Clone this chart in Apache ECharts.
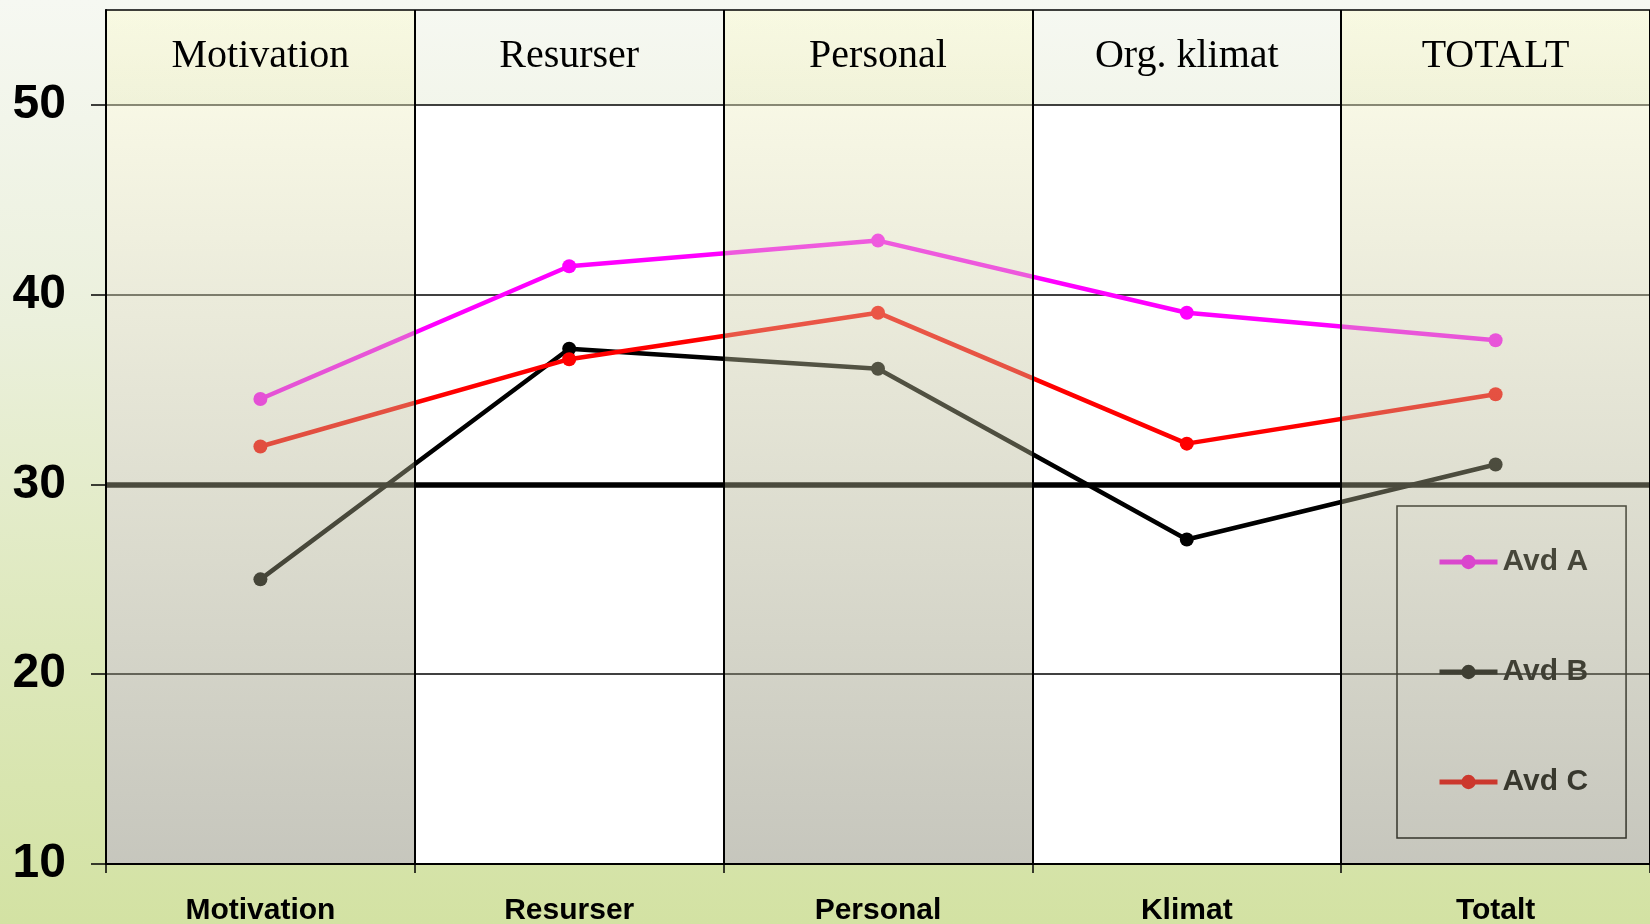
<!DOCTYPE html>
<html>
<head>
<meta charset="utf-8">
<script src="https://cdn.jsdelivr.net/npm/echarts@6/dist/echarts.min.js"></script>
<style>
  html, body { margin: 0; padding: 0; }
  body { background: linear-gradient(to bottom, #f6f8f2 0%, #ebf0dc 35%, #dde8bb 70%, #d3e2a3 100%); }
  #chart { width: 1650px; height: 924px; }
</style>
</head>
<body>
<div id="chart"></div>
<script>
  // data
  const categories = ['Motivation', 'Resurser', 'Personal', 'Klimat', 'Totalt'];
  const headers = ['Motivation', 'Resurser', 'Personal', 'Org. klimat', 'TOTALT'];
  const avdA = [34.5, 41.5, 42.85, 39.05, 37.6];
  const avdB = [25.0, 37.15, 36.1, 27.1, 31.05];
  const avdC = [32.0, 36.6, 39.05, 32.15, 34.75];
  const yTicks = [10, 20, 30, 40, 50];
  const yMin = 10;
  const yMax = 55;
  const headerLine = 50;
  const refLine = 30;
  const shadedCols = [0, 2, 4];

  const chart = echarts.init(document.getElementById('chart'));

  const whiteVals = categories.map(() => headerLine);
  const overlayVals = categories.map((c, i) => shadedCols.indexOf(i) >= 0 ? yMax : '-');

  function lineSeries(name, data, color) {
    return {
      name: name,
      type: 'line',
      data: data,
      z: 2,
      symbol: 'circle',
      symbolSize: 14,
      lineStyle: { color: color, width: 4.5 },
      itemStyle: { color: color },
      emphasis: { disabled: true },
      silent: true
    };
  }

  const seriesA = lineSeries('Avd A', avdA, '#ff00ff');
  seriesA.markLine = {
    silent: true,
    symbol: 'none',
    label: { show: false },
    lineStyle: { color: '#000', width: 5.5, type: 'solid' },
    data: [{ yAxis: refLine }]
  };

  const option = {
    animation: false,
    backgroundColor: 'transparent',
    grid: { left: 106, right: 0, top: 10, bottom: 60, containLabel: false, outerBoundsMode: 'none' },
    legend: {
      data: ['Avd A', 'Avd B', 'Avd C'],
      orient: 'vertical',
      left: 1397,
      top: 506,
      padding: [41, 38, 41, 40],
      itemGap: 80,
      itemWidth: 58,
      itemHeight: 18,
      borderColor: '#000',
      borderWidth: 1.5,
      z: 1,
      selectedMode: false,
      lineStyle: { width: 5 },
      textStyle: { fontSize: 30, fontWeight: 'bold', color: '#000', fontFamily: 'Liberation Sans' }
    },
    xAxis: [
      {
        type: 'category',
        data: categories,
        position: 'bottom',
        z: 10,
        axisLine: { onZero: false, lineStyle: { color: '#000', width: 2 } },
        axisTick: { show: true, length: 9, lineStyle: { color: '#000', width: 1.5 } },
        splitLine: { show: true, lineStyle: { color: '#000', width: 2 } },
        axisLabel: { margin: 32, color: '#000', fontSize: 30, fontWeight: 'bold', fontFamily: 'Liberation Sans' }
      },
      {
        type: 'category',
        data: headers,
        position: 'top',
        z: 10,
        axisLine: { show: true, onZero: false, lineStyle: { color: '#000', width: 1.5 } },
        axisTick: { show: false },
        splitLine: { show: false },
        axisLabel: { inside: true, margin: 26, color: '#000', fontSize: 40, fontFamily: 'Liberation Serif' }
      }
    ],
    yAxis: {
      type: 'value',
      min: yMin,
      max: yMax,
      interval: 10,
      startValue: yMin,
      z: 1,
      axisLine: { show: true, lineStyle: { color: '#000', width: 2 } },
      axisTick: { show: true, length: 15, customValues: yTicks, lineStyle: { color: '#000', width: 1.5 } },
      axisLabel: {
        customValues: yTicks,
        margin: 40,
        color: '#000',
        fontSize: 48,
        fontWeight: 'bold',
        fontFamily: 'Liberation Sans'
      },
      splitLine: { show: true, lineStyle: { color: '#000', width: 1.5 } }
    },
    series: [
      {
        type: 'bar',
        data: whiteVals,
        barWidth: '100%',
        barGap: '-100%',
        z: 0,
        silent: true,
        itemStyle: { color: '#fff' },
        emphasis: { disabled: true }
      },
      seriesA,
      lineSeries('Avd B', avdB, '#000000'),
      lineSeries('Avd C', avdC, '#ff0000'),
      {
        type: 'bar',
        data: overlayVals,
        barWidth: '100%',
        barGap: '-100%',
        z: 5,
        silent: true,
        emphasis: { disabled: true },
        itemStyle: {
          color: {
            type: 'linear', x: 0, y: 0, x2: 0, y2: 1,
            colorStops: [
              { offset: 0, color: 'rgba(252,252,205,0.42)' },
              { offset: 1, color: 'rgba(120,120,98,0.42)' }
            ]
          }
        }
      }
    ]
  };

  chart.setOption(option);
  window.addEventListener('resize', () => chart.resize());
</script>
</body>
</html>
